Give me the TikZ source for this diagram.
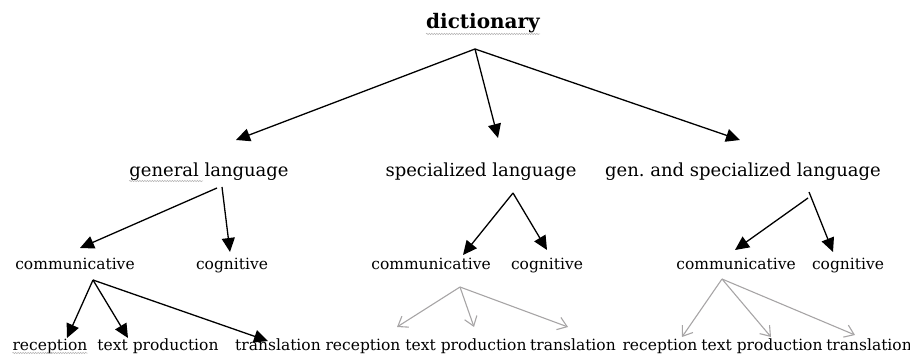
\documentclass[tikz,border=0pt]{standalone}
\usepackage[dvipsnames]{xcolor}
\usepackage{fontspec}
\setmainfont{DejaVu Serif}
\usepackage{tikz}
\usetikzlibrary{arrows.meta}
\usetikzlibrary{decorations.pathmorphing}

\begin{document}
\begin{tikzpicture}[x=1pt, y=-1pt,
         top/.style={anchor=base, inner sep=0pt, font=\fontsize{20}{23}\selectfont\bfseries},
         kind/.style={anchor=base, inner sep=0pt, font=\fontsize{18}{21}\selectfont},
         func/.style={anchor=base, inner sep=0pt, font=\fontsize{15.5}{18}\selectfont},
         darrow/.style={line width=1.3pt, -{Triangle[length=14pt, width=13pt]}},
         garrow/.style={line width=1.1pt, draw=Gray!80, -{Straight Barb[length=9pt, width=13pt]}},
         spellmark/.style={draw=Gray!70, line width=0.5pt, decorate,
            decoration={snake, amplitude=0.7pt, segment length=2.5pt}}]
         \useasboundingbox (0,0) rectangle (910,355);

         \node (dict) at (483,29) [top] {dictionary};
         \coordinate (fork) at ([shift={(-8,20)}]dict.base);

         \node (gen) at (209,177) [kind] {general language};
         \node (spec) at (481,177) [kind] {specialized language};
         \node (both) at (743,177) [kind] {gen.\ and specialized language};

         \node (com1) at (75,270) [func] {communicative};
         \node (cog1) at (232,270) [func] {cognitive};
         \node (com2) at (431,270) [func] {communicative};
         \node (cog2) at (547,270) [func] {cognitive};
         \node (com3) at (736,270) [func] {communicative};
         \node (cog3) at (848,270) [func] {cognitive};

         \node (rec1) at (50,350) [func] {reception};
         \node (prod1) at (158,350) [func] {text production};
         \node (tra1) at (278,350) [func] {translation};
         \node (rec2) at (363,350) [func] {reception};
         \node (prod2) at (466,350) [func] {text production};
         \node (tra2) at (573,350) [func] {translation};
         \node (rec3) at (660,350) [func] {reception};
         \node (prod3) at (762,350) [func] {text production};
         \node (tra3) at (869,350) [func] {translation};

         % spelling marks
         \draw [spellmark] ([shift={(0,5)}]dict.base west) -- ([shift={(0,5)}]dict.base east);
         \draw [spellmark] ([shift={(0,4)}]gen.base west) -- ++(74,0);
         \draw [spellmark] ([shift={(0,3)}]rec1.base west) -- ([shift={(0,3)}]rec1.base east);

         \draw [darrow] (fork) -- ([shift={(27,-37)}]gen.base);
         \draw [darrow] (fork) -- ([shift={(17,-39)}]spec.base);
         \draw [darrow] (fork) -- ([shift={(-3,-37)}]both.base);

         \draw [darrow] ([shift={(8,11)}]gen.base) -- ([shift={(5,-22)}]com1.base);
         \draw [darrow] ([shift={(13,10)}]gen.base) -- ([shift={(-2,-18)}]cog1.base);
         \draw [darrow] ([shift={(32,16)}]spec.base) -- ([shift={(32,-15)}]com2.base);
         \draw [darrow] ([shift={(32,16)}]spec.base) -- ([shift={(0,-20)}]cog2.base);
         \draw [darrow] ([shift={(65,21)}]both.base) -- ([shift={(-1,-20)}]com3.base);
         \draw [darrow] ([shift={(66,15)}]both.base) -- ([shift={(-15,-18)}]cog3.base);

         \draw [darrow] ([shift={(18,10)}]com1.base) -- ([shift={(17,-12)}]rec1.base);
         \draw [darrow] ([shift={(18,10)}]com1.base) -- ([shift={(-30,-12)}]prod1.base);
         \draw [darrow] ([shift={(18,10)}]com1.base) -- ([shift={(-10,-9)}]tra1.base);

         \draw [garrow] ([shift={(29,17)}]com2.base) -- ([shift={(34,-23)}]rec2.base);
         \draw [garrow] ([shift={(29,17)}]com2.base) -- ([shift={(8,-23)}]prod2.base);
         \draw [garrow] ([shift={(29,17)}]com2.base) -- ([shift={(-5,-23)}]tra2.base);

         \draw [garrow] ([shift={(-14,9)}]com3.base) -- ([shift={(22,-13)}]rec3.base);
         \draw [garrow] ([shift={(-14,9)}]com3.base) -- ([shift={(9,-13)}]prod3.base);
         \draw [garrow] ([shift={(-14,9)}]com3.base) -- ([shift={(-14,-15)}]tra3.base);
      \end{tikzpicture}
\end{document}
